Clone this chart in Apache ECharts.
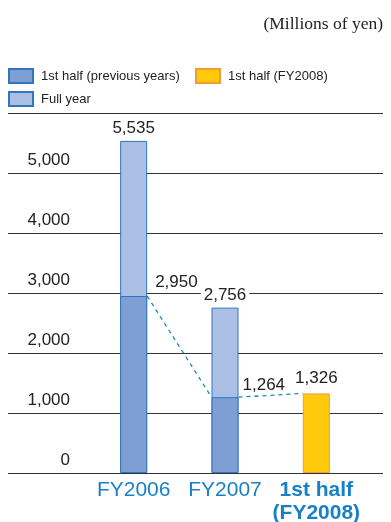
<!DOCTYPE html>
<html>
<head>
<meta charset="utf-8">
<script src="https://cdn.jsdelivr.net/npm/echarts@6/dist/echarts.min.js"></script>
<style>
  html, body { margin: 0; padding: 0; background: #fff; }
  #chart { width: 391px; height: 522px; }
</style>
</head>
<body>
<div id="chart"></div>
<script>
// Net income, first half vs full year (millions of yen)
const categories = ['FY2006', 'FY2007', '1st half\n(FY2008)'];
const fullYear = [5535, 2756, null];
const firstHalfPrev = [2950, 1264, null];
const firstHalfCurrent = [null, null, 1326];
const yTicks = [0, 1000, 2000, 3000, 4000, 5000, 6000];

const BLUE_TEXT = '#1a80c6';
const BORDER_BLUE = '#3274bd';
const fmt = v => v.toLocaleString('en-US');

// half bar width in category units (bar 27px, band ~91px)
const half = 13.5 / 91.33;

// dashed connector between first-half tops: right edge of one bar to left edge of the next
const trendPoints = [];
const halves = firstHalfPrev.map((v, i) => v != null ? v : firstHalfCurrent[i]);
halves.forEach((v, i) => {
  if (i > 0) trendPoints.push([i - half, v]);
  if (i < halves.length - 1) trendPoints.push([i + half, v]);
});
// separate segments so the part across a bar top is not drawn
const trendData = [];
for (let k = 0; k < trendPoints.length; k += 2) {
  trendData.push(trendPoints[k], trendPoints[k + 1]);
  if (k + 2 < trendPoints.length) trendData.push([null, null]);
}

const chart = echarts.init(document.getElementById('chart'), null, { renderer: 'canvas' });

const prevLabelOffsets = [[8, -5], [4, -3]];
const legendCommon = {
  icon: 'rect',
  itemWidth: 24, itemHeight: 14,
  padding: 0,
  textStyle: { fontSize: 13, color: '#222', padding: [0, 0, 0, 3] }
};

chart.setOption({
  animation: false,
  textStyle: { fontFamily: 'Liberation Sans, Arial, sans-serif' },
  graphic: [{
    type: 'text',
    right: 8,
    top: 15,
    style: {
      text: '(Millions of yen)',
      font: '17.5px "Liberation Serif", "Times New Roman", serif',
      fill: '#222'
    }
  }],
  legend: [
    Object.assign({ data: ['1st half (previous years)'], left: 8, top: 68 }, legendCommon),
    Object.assign({ data: ['1st half (FY2008)'], left: 195, top: 68 }, legendCommon),
    Object.assign({ data: ['Full year'], left: 8, top: 91 }, legendCommon)
  ],
  grid: [
    { left: 88, width: 274, top: 113, height: 360, outerBoundsMode: 'none', containLabel: false },
    { left: 8, width: 375, top: 113, height: 360, outerBoundsMode: 'none', containLabel: false }
  ],
  xAxis: [
    {
      type: 'category',
      gridIndex: 0,
      data: categories,
      axisLine: { show: false },
      axisTick: { show: false },
      axisLabel: {
        interval: 0,
        margin: 6,
        fontSize: 21,
        color: BLUE_TEXT,
        lineHeight: 23,
        formatter: (v, i) => i === 2 ? '{b|' + v.replace('\n', '}\n{b|') + '}' : v,
        rich: { b: { fontSize: 21, fontWeight: 'bold', color: BLUE_TEXT, lineHeight: 23 } }
      }
    },
    {
      type: 'value',
      gridIndex: 0,
      min: -0.5, max: 2.5,
      show: false
    },
    {
      type: 'value',
      gridIndex: 1,
      show: false
    }
  ],
  yAxis: [
    {
      type: 'value',
      gridIndex: 0,
      min: 0, max: 6000, interval: 1000,
      axisLine: { show: false },
      axisTick: { show: false },
      splitLine: { show: false },
      axisLabel: {
        margin: 18,
        fontSize: 17,
        color: '#222',
        verticalAlign: 'bottom',
        padding: [0, 0, 4, 0],
        formatter: v => (v < 6000 ? fmt(v) : '')
      }
    },
    {
      type: 'value',
      gridIndex: 1,
      min: 0, max: 6000, interval: 1000,
      axisLine: { show: false },
      axisTick: { show: false },
      axisLabel: { show: false },
      splitLine: { lineStyle: { color: '#333', width: 1 } }
    }
  ],
  series: [
    {
      name: 'Full year',
      type: 'bar',
      xAxisIndex: 0, yAxisIndex: 0,
      barWidth: 27,
      barGap: '-100%',
      z: 3,
      itemStyle: { color: '#abbfe4', borderColor: BORDER_BLUE, borderWidth: 1 },
      label: {
        show: true,
        position: 'top',
        distance: 4,
        fontSize: 17,
        color: '#222',
        backgroundColor: '#fff',
        padding: [0, 3],
        formatter: p => fmt(p.value)
      },
      data: fullYear
    },
    {
      name: '1st half (previous years)',
      type: 'bar',
      xAxisIndex: 0, yAxisIndex: 0,
      barWidth: 27,
      barGap: '-100%',
      z: 4,
      itemStyle: { color: '#7d9fd3', borderColor: BORDER_BLUE, borderWidth: 1 },
      data: firstHalfPrev.map((v, i) => ({
        value: v,
        label: {
          show: v != null,
          position: ['100%', 0],
          align: 'left',
          verticalAlign: 'bottom',
          offset: prevLabelOffsets[i] || [0, 0],
          fontSize: 17,
          color: '#222',
          formatter: p => fmt(p.value)
        }
      }))
    },
    {
      name: '1st half (FY2008)',
      type: 'bar',
      xAxisIndex: 0, yAxisIndex: 0,
      barWidth: 27,
      barGap: '-100%',
      z: 4,
      itemStyle: { color: '#ffca0c', borderColor: '#f29a3a', borderWidth: 1 },
      label: {
        show: true,
        position: 'top',
        distance: 7,
        fontSize: 17,
        color: '#222',
        formatter: p => fmt(p.value)
      },
      data: firstHalfCurrent
    },
    {
      name: 'trend',
      type: 'line',
      xAxisIndex: 1, yAxisIndex: 0,
      z: 5,
      symbol: 'none',
      silent: true,
      connectNulls: false,
      lineStyle: { color: '#1a82c8', width: 1.3, type: [4, 4] },
      data: trendData
    }
  ]
});
</script>
</body>
</html>
